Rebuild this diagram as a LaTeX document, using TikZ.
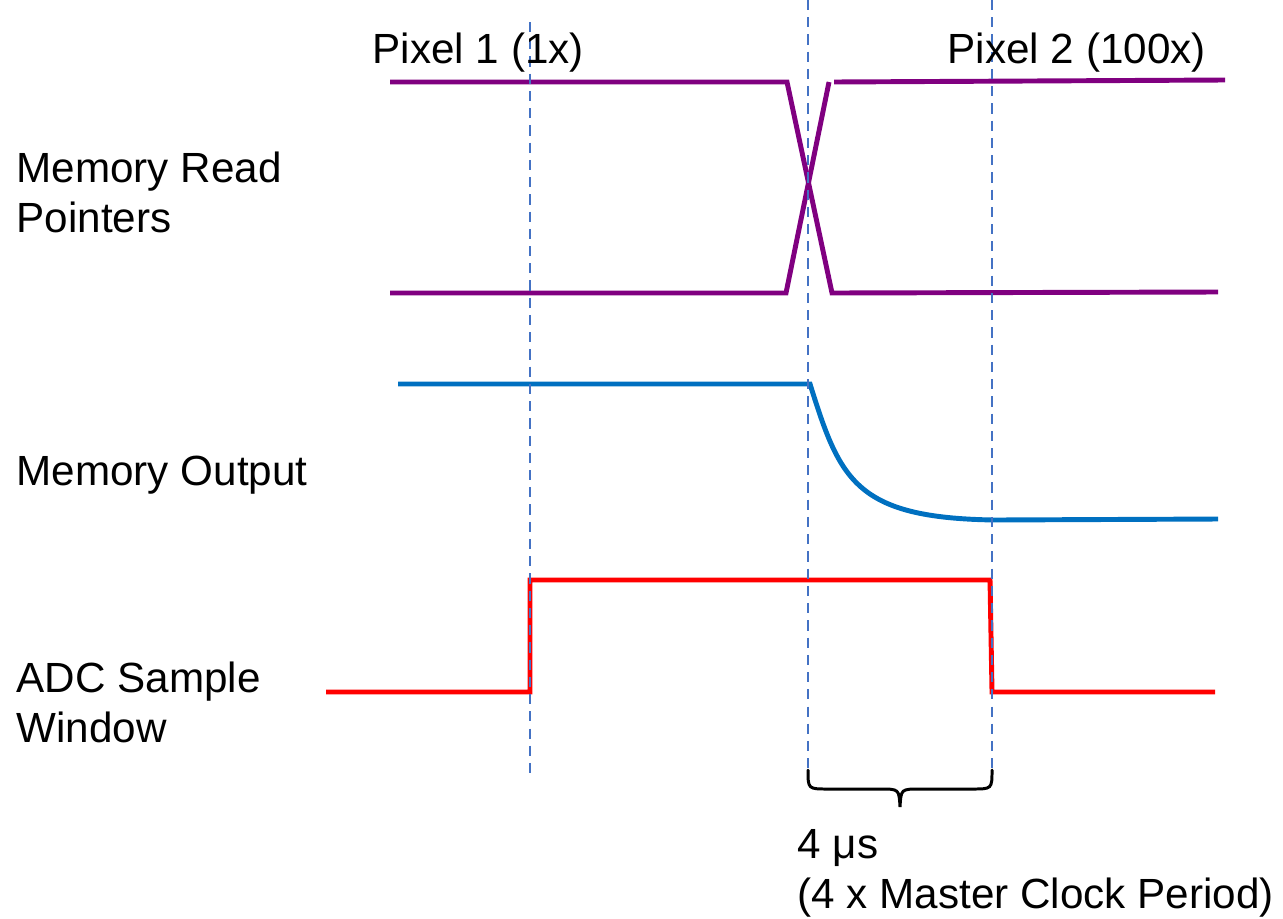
\documentclass[tikz,border=0pt]{standalone}
\usepackage{fontspec}
\setmainfont{Liberation Sans}
\definecolor{ptrpurple}{RGB}{128,0,128}
\definecolor{outblue}{RGB}{0,112,192}
\definecolor{markblue}{RGB}{68,114,196}
\definecolor{adcred}{RGB}{255,0,0}

\begin{document}
\begin{tikzpicture}[x=0.01cm, y=-0.01cm,
    every node/.style={font=\fontsize{12}{14.2}\selectfont, inner sep=0pt, align=left},
    trace/.style={line width=1.4pt, line join=miter},
    marker/.style={markblue, line width=0.75pt, dash pattern=on 2.9pt off 2pt}]
  \useasboundingbox (0,0) rectangle (1283,918);
  % Marker ends (sample start, pointer switch, sample end)
  \coordinate (m1top) at (530,22);
  \coordinate (m1bot) at (530,775);
  \coordinate (m2top) at (808,0);
  \coordinate (m2bot) at (808,775);
  \coordinate (m3top) at (992,0);
  \coordinate (m3bot) at (992,775);
  % Memory read pointers (crossing)
  \draw[trace, ptrpurple] (390,82) -- (787,82) -- (832,293) -- (1218,292);
  \draw[trace, ptrpurple] (390,293) -- (786,293) -- (829,82);
  \draw[trace, ptrpurple] (834,82) -- (1225,80);
  % Memory output settling
  \draw[trace, outblue] (398,384) -- (810,384)
    .. controls (840,480) and (855,518) .. (995,520) -- (1218,519);
  % ADC sample window
  \draw[trace, adcred] (326,692) -- (530,692) -- (530,580) -- (990,580)
    -- (992,692) -- (1215,692);
  % Dashed time markers
  \draw[marker] (m1top) -- (m1bot);
  \draw[marker] (m2top) -- (m2bot);
  \draw[marker] (m3top) -- (m3bot);
  % Settling interval brace
  \draw[line width=0.85pt, line cap=round]
    (808,770) .. controls (808,789) .. (828,789) -- (880,789)
    .. controls (899,789) .. (900,807)
    .. controls (901,789) .. (920,789) -- (972,789)
    .. controls (992,789) .. (992,770);
  % Labels
  \node[anchor=base west] (pix1) at (372,63) {Pixel 1 (1x)};
  \node[anchor=base west] (pix2) at (947,63) {Pixel 2 (100x)};
  \node[anchor=base west] (lblptr) at (16,232) {Memory Read\\Pointers};
  \node[anchor=base west] (lblout) at (16,485) {Memory Output};
  \node[anchor=base west] (lbladc) at (16,742) {ADC Sample\\Window};
  \node[anchor=base west] (period) at (797,908) {4 μs\\(4 x Master Clock Period)};
\end{tikzpicture}
\end{document}
